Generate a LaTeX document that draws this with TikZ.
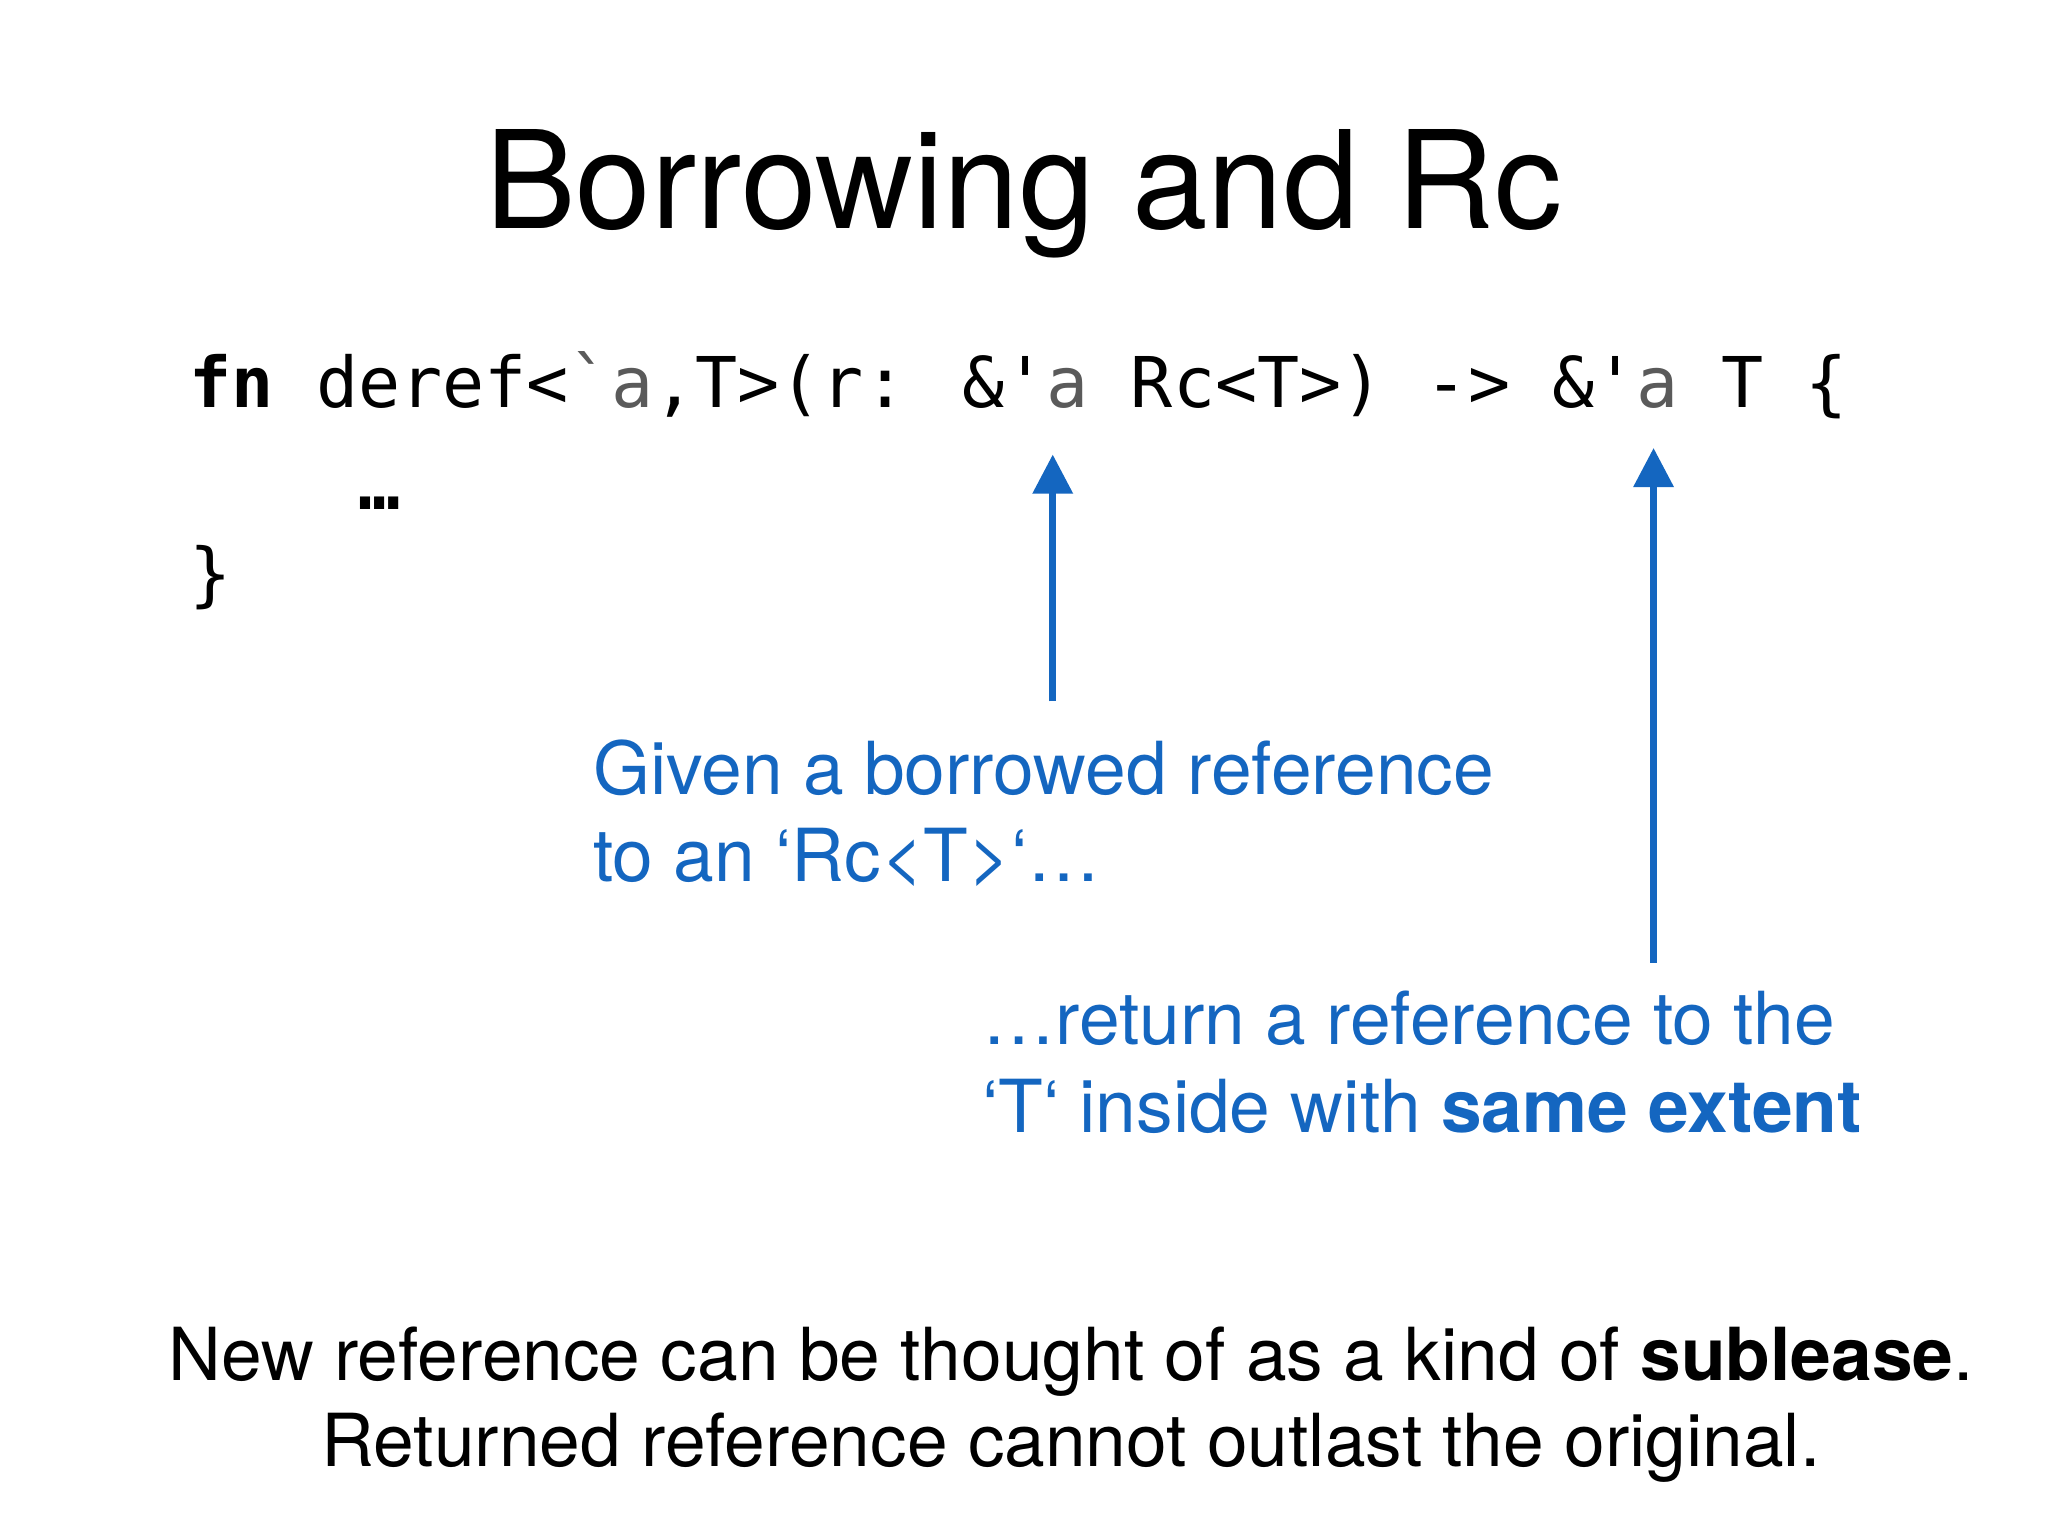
\documentclass[tikz,border=0pt]{standalone}
\usepackage{fontspec}
\setmainfont{TeX Gyre Heros}
\newfontfamily\codefont{DejaVu Sans Mono}
\usetikzlibrary{arrows.meta}
\definecolor{kblue}{HTML}{1466C0}
\definecolor{kgray}{HTML}{5A5A5A}
\tikzset{
  txt/.style={inner sep=0pt,anchor=base west},
  code/.style={txt,font=\codefont\fontsize{53.6}{60}\selectfont},
  note/.style={txt,text=kblue,font=\fontsize{56}{64}\selectfont},
  arr/.style={draw=kblue,line width=5pt,-{Triangle[length=30pt,width=30pt]}}
}
\begin{document}
\begin{tikzpicture}[x=1pt,y=-1pt]
\useasboundingbox (0,0) rectangle (1568,1176);
\node[txt,anchor=base,font=\fontsize{104}{110}\selectfont] (title) at (784,175) {Borrowing and Rc};
\node[code] (l1) at (145,312) {\textbf{fn} deref<\textcolor{kgray}{`a},T>(r: \&'\textcolor{kgray}{a} Rc<T>) -> \&'\textcolor{kgray}{a} T \{};
\node[code] (l2) at (274,390) {\textbf{…}};
\node[code] (l3) at (145,458) {\}};
\node[note] (n1) at (454,608) {Given a borrowed reference};
\node[note] (n1b) at (454,675) {to an `Rc<T>`…};
\node[note] (n2) at (752,800) {…return a reference to the};
\node[note] (n2b) at (752,867) {`T` inside with \textbf{same extent}};
\coordinate (a1s) at (806,537); \coordinate (a1e) at (806,348);
\coordinate (a2s) at (1266,737); \coordinate (a2e) at (1266,343);
\draw[arr] (a1s) -- (a1e);
\draw[arr] (a2s) -- (a2e);
\node[txt,anchor=base,font=\fontsize{56}{64}\selectfont] (b1) at (820,1057) {New reference can be thought of as a kind of \textbf{sublease}.};
\node[txt,anchor=base,font=\fontsize{56}{64}\selectfont] (b2) at (820,1123) {Returned reference cannot outlast the original.};
\end{tikzpicture}
\end{document}
